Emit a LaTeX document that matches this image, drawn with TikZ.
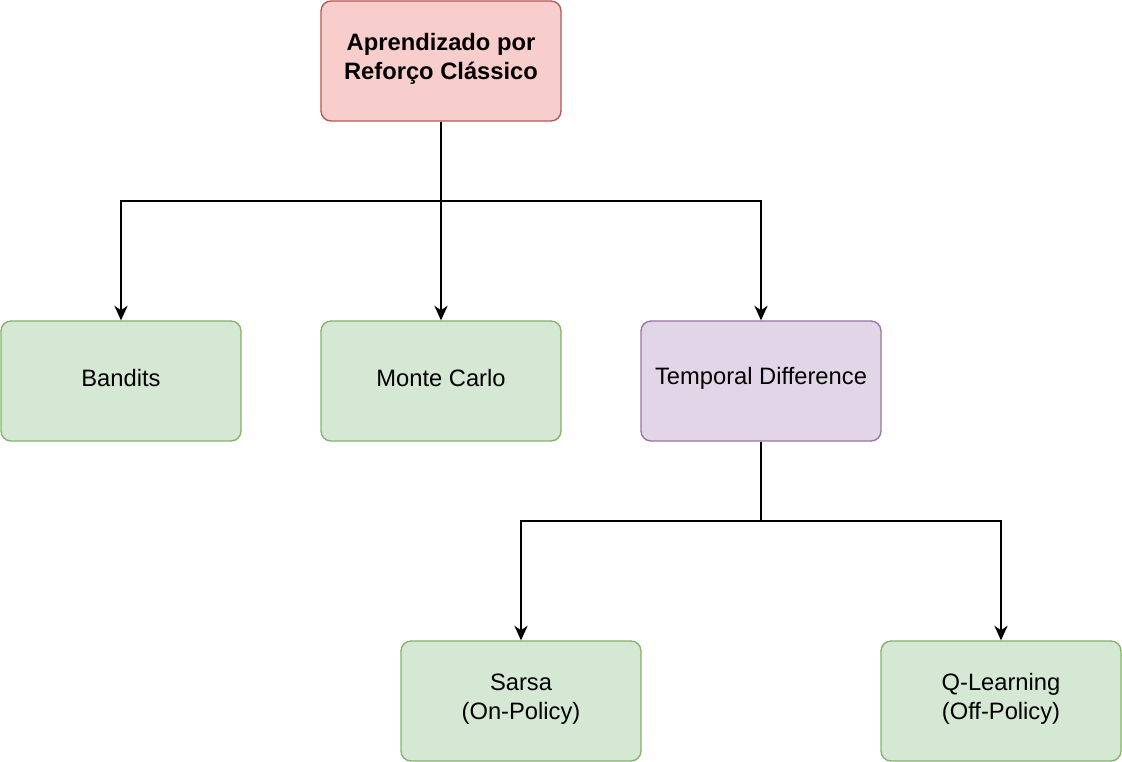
\documentclass[tikz,border=0pt]{standalone}
\usepackage{fontspec}
\setmainfont{Liberation Sans}
\usetikzlibrary{arrows.meta}
\definecolor{redfill}{HTML}{F8CECC}
\definecolor{redline}{HTML}{B85450}
\definecolor{greenfill}{HTML}{D5E8D4}
\definecolor{greenline}{HTML}{82B366}
\definecolor{purplefill}{HTML}{E1D5E7}
\definecolor{purpleline}{HTML}{9673A6}
\tikzset{
  box/.style={draw, rounded corners=7.5pt, line width=1pt, minimum width=180pt, minimum height=90pt, align=center, font=\fontsize{17.8pt}{21.75pt}\selectfont, inner sep=0pt},
  redbox/.style={box, fill=redfill, draw=redline},
  greenbox/.style={box, fill=greenfill, draw=greenline},
  purplebox/.style={box, fill=purplefill, draw=purpleline},
  lbl/.style={align=center, font=\fontsize{17.8pt}{21.75pt}\selectfont, inner sep=0pt},
  arr/.style={line width=1pt, -{Stealth[length=11pt,width=10pt,inset=3.5pt]}}
}
\begin{document}
\begin{tikzpicture}[x=0.75pt,y=-0.75pt]
\useasboundingbox (0,0) rectangle (1122,762);
\node[redbox] (top) at (441,61) {};
\node[lbl, font=\bfseries\fontsize{17.8pt}{21.75pt}\selectfont] (toplbl) at (441,59) {Aprendizado por\\Reforço Clássico};
\node[greenbox] (band) at (121,381) {};
\node[lbl] (bandlbl) at (121,378) {Bandits};
\node[greenbox] (mc) at (441,381) {};
\node[lbl] (mclbl) at (441,378) {Monte Carlo};
\node[purplebox] (td) at (761,381) {};
\node[lbl] (tdlbl) at (761,378) {Temporal Difference};
\node[greenbox] (sarsa) at (521,701) {};
\node[lbl] (sarsalbl) at (521,699) {Sarsa\\(On-Policy)};
\node[greenbox] (ql) at (1001,701) {};
\node[lbl] (qllbl) at (1001,699) {Q-Learning\\(Off-Policy)};
\coordinate (j1) at (441,201);
\coordinate (j2) at (761,521);
\draw[arr] (top.south) -- (j1) -| (band.north);
\draw[arr] (top.south) -- (mc.north);
\draw[arr] (top.south) -- (j1) -| (td.north);
\draw[arr] (td.south) -- (j2) -| (sarsa.north);
\draw[arr] (td.south) -- (j2) -| (ql.north);
\end{tikzpicture}
\end{document}
